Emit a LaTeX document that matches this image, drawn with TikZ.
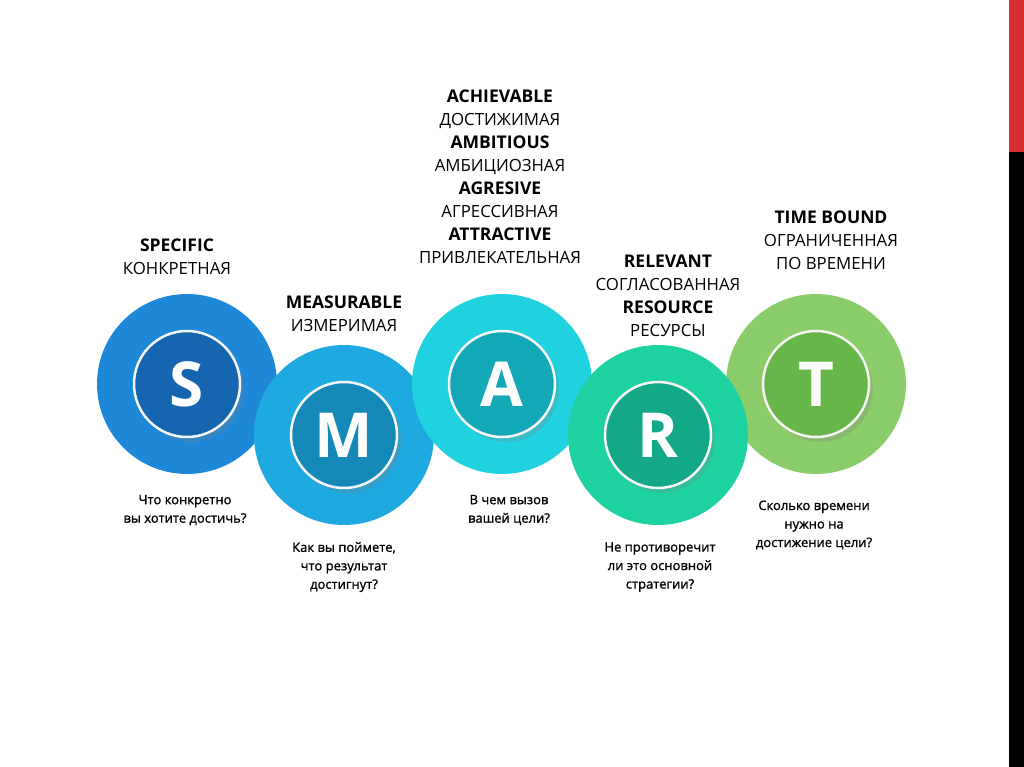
\documentclass[tikz,border=0pt]{standalone}
\usepackage{fontspec}
\setmainfont{Open Sans}
\newfontfamily\askfont{Open Sans}[FakeBold=1.2]
\usetikzlibrary{shadows}

\definecolor{sOut}{RGB}{30,136,216}
\definecolor{sIn}{RGB}{21,101,176}
\definecolor{mOut}{RGB}{31,169,225}
\definecolor{mIn}{RGB}{20,137,184}
\definecolor{aOut}{RGB}{32,210,224}
\definecolor{aIn}{RGB}{18,168,182}
\definecolor{rOut}{RGB}{29,209,161}
\definecolor{rIn}{RGB}{19,168,135}
\definecolor{tOut}{RGB}{138,205,106}
\definecolor{tIn}{RGB}{102,182,74}
\definecolor{barred}{RGB}{214,46,48}

\newcommand\hd[1]{{\bfseries\fontsize{17.5}{23}\selectfont #1}}

\tikzset{
  ring/.style={circle,minimum size=180pt,inner sep=0pt},
  core/.style={circle,minimum size=106pt,inner sep=0pt,draw=white!92!gray,
    line width=2.5pt,text=white,font=\bfseries\fontsize{62}{62}\selectfont,
    drop shadow={shadow xshift=4pt,shadow yshift=-5pt,opacity=0.25}},
  title/.style={align=center,font=\fontsize{16.8}{23}\selectfont},
  ask/.style={align=center,font=\askfont\fontsize{13}{18.5}\selectfont}
}

\begin{document}
\begin{tikzpicture}[x=1pt,y=-1pt]
  \useasboundingbox (0,0) rectangle (1024,767);
  \fill[white] (0,0) rectangle (1024,767);
  \fill[barred] (1009,0) rectangle (1024,152);
  \fill[black] (1009,152) rectangle (1024,767);

  % circles
  \node (s) [ring,fill=sOut] at (187,384) {};
  \node (sl) [core,fill=sIn] at (s) {S};
  \node (m) [ring,fill=mOut] at (344,435) {};
  \node (ml) [core,fill=mIn] at (m) {M};
  \node (a) [ring,fill=aOut] at (502,384) {};
  \node (al) [core,fill=aIn] at (a) {A};
  \node (t) [ring,fill=tOut] at (816,384) {};
  \node (tl) [core,fill=tIn] at (t) {T};
  \node (r) [ring,fill=rOut] at (658,435) {};
  \node (rl) [core,fill=rIn] at (r) {R};

  % titles
  \node (st) [title] at (177,257) {\hd{SPECIFIC}\\КОНКРЕТНАЯ};
  \node (mt) [title] at (344,314) {\hd{MEASURABLE}\\ИЗМЕРИМАЯ};
  \node (at) [title] at (500,177) {\hd{ACHIEVABLE}\\ДОСТИЖИМАЯ\\
    \hd{AMBITIOUS}\\АМБИЦИОЗНАЯ\\\hd{AGRESIVE}\\АГРЕССИВНАЯ\\
    \hd{ATTRACTIVE}\\ПРИВЛЕКАТЕЛЬНАЯ};
  \node (rt) [title] at (668,296) {\hd{RELEVANT}\\СОГЛАСОВАННАЯ\\
    \hd{RESOURCE}\\РЕСУРСЫ};
  \node (tt) [title] at (831,240) {\hd{TIME BOUND}\\ОГРАНИЧЕННАЯ\\ПО ВРЕМЕНИ};

  % questions
  \node (sq) [ask] at (185,510) {Что конкретно\\вы хотите достичь?};
  \node (mq) [ask] at (344,567) {Как вы поймете,\\что результат\\достигнут?};
  \node (aq) [ask] at (509,510) {В чем вызов\\вашей цели?};
  \node (rq) [ask] at (660,567) {Не противоречит\\ли это основной\\стратегии?};
  \node (tq) [ask] at (814,525) {Сколько времени\\нужно на\\достижение цели?};
\end{tikzpicture}
\end{document}
